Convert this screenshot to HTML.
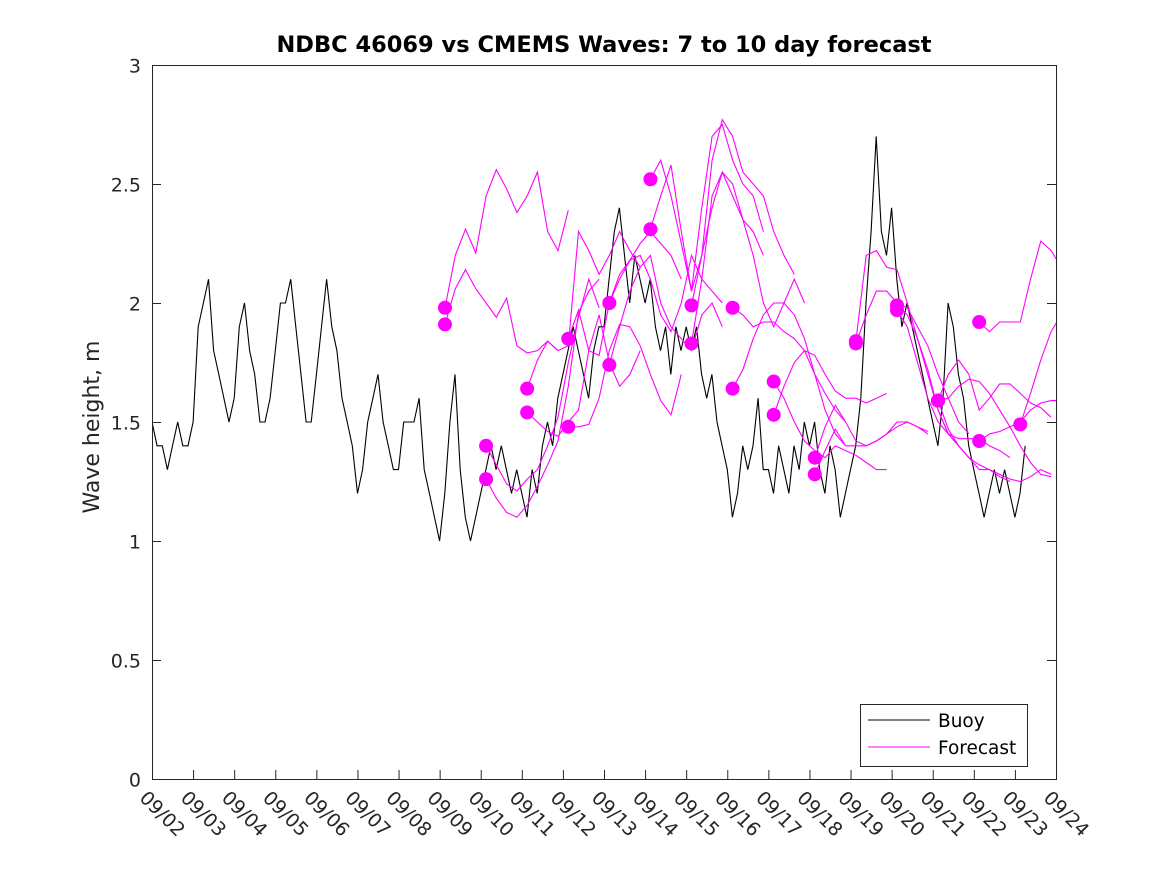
<!DOCTYPE html>
<html><head><meta charset="utf-8"><style>
body{margin:0;background:#fff}
svg{display:block;font-family:"DejaVu Sans","Liberation Sans",sans-serif}
</style></head><body>
<svg id="chart" width="1167" height="875">
<defs><clipPath id="plotclip"><rect x="152" y="65" width="904" height="714"/></clipPath></defs>
<rect x="0" y="0" width="1167" height="875" fill="#fff"/>
<rect x="152" y="65" width="904" height="714" fill="#fff" stroke="none"/>
<g id="series" clip-path="url(#plotclip)"></g>
<rect x="152.5" y="65.5" width="904" height="714" fill="none" stroke="#262626" stroke-width="1"/>
<g id="axes"></g>
<text x="604" y="52" text-anchor="middle" font-size="22.5" font-weight="bold" fill="#000">NDBC 46069 vs CMEMS Waves: 7 to 10 day forecast</text>
<text transform="translate(99,427) rotate(-90)" text-anchor="middle" font-size="22" fill="#262626">Wave height, m</text>
<g>
<rect x="860.5" y="704.5" width="167" height="62" fill="#fff" stroke="#262626"/>
<line x1="868" y1="720" x2="930" y2="720" stroke="#000" stroke-width="1"/>
<text x="938" y="727" font-size="18.5" fill="#000">Buoy</text>
<line x1="868" y1="747" x2="930" y2="747" stroke="#ff00ff" stroke-width="1"/>
<text x="938" y="754" font-size="18.5" fill="#000">Forecast</text>
</g>
</svg>
<script>
const xTickLabels=["09/02","09/03","09/04","09/05","09/06","09/07","09/08","09/09","09/10","09/11","09/12","09/13","09/14","09/15","09/16","09/17","09/18","09/19","09/20","09/21","09/22","09/23","09/24"];
const yTicks=[0,0.5,1,1.5,2,2.5,3];
const yTickLabels=["0","0.5","1","1.5","2","2.5","3"];
// buoy wave height, 3-hourly from 09/02 00:00
const buoyValues=[
1.5,1.4,1.4,1.3,1.4,1.5,1.4,1.4,
1.5,1.9,2.0,2.1,1.8,1.7,1.6,1.5,
1.6,1.9,2.0,1.8,1.7,1.5,1.5,1.6,
1.8,2.0,2.0,2.1,1.9,1.7,1.5,1.5,
1.7,1.9,2.1,1.9,1.8,1.6,1.5,1.4,
1.2,1.3,1.5,1.6,1.7,1.5,1.4,1.3,
1.3,1.5,1.5,1.5,1.6,1.3,1.2,1.1,
1.0,1.2,1.5,1.7,1.3,1.1,1.0,1.1,
1.2,1.3,1.4,1.3,1.4,1.3,1.2,1.3,
1.2,1.1,1.3,1.2,1.4,1.5,1.4,1.6,
1.7,1.8,1.9,1.8,1.7,1.6,1.8,1.9,
1.9,2.1,2.3,2.4,2.2,2.0,2.2,2.1,
2.0,2.1,1.9,1.8,1.9,1.7,1.9,1.8,
1.9,1.8,1.9,1.7,1.6,1.7,1.5,1.4,
1.3,1.1,1.2,1.4,1.3,1.4,1.6,1.3,
1.3,1.2,1.4,1.3,1.2,1.4,1.3,1.5,
1.4,1.5,1.3,1.2,1.4,1.3,1.1,1.2,
1.3,1.4,1.6,2.0,2.3,2.7,2.3,2.2,
2.4,2.1,1.9,2.0,1.9,1.8,1.7,1.6,
1.5,1.4,1.6,2.0,1.9,1.7,1.6,1.4,
1.3,1.2,1.1,1.2,1.3,1.2,1.3,1.2,
1.1,1.2,1.4];
const buoyStep=0.125;
// forecast runs: start day (days after 09/02 00:00), values every 6 hours; first value is the dot
const fcStart=[7.13,7.13,8.13,8.13,9.13,9.13,10.13,10.13,11.13,11.13,12.13,12.13,13.13,13.13,14.13,14.13,15.13,15.13,16.13,16.13,17.13,17.13,18.13,18.13,19.13,19.13,19.13,20.13,20.13,21.13];
const fcValues=[
[1.98,2.20,2.31,2.21,2.45,2.56,2.48,2.38,2.45,2.55,2.30,2.22,2.39],
[1.91,2.06,2.14,2.06,2.00,1.94,2.02,1.82,1.79,1.80,1.84,1.80],
[1.40,1.32,1.24,1.21,1.26,1.30,1.40,1.52,1.75,1.94,2.10,1.98],
[1.26,1.18,1.12,1.10,1.15,1.23,1.32,1.42,1.65,1.96,2.05,2.10],
[1.64,1.76,1.84,1.80,1.82,2.30,2.22,2.12,2.20,2.30,2.22,2.15],
[1.54,1.50,1.46,1.44,1.50,1.55,1.80,1.95,1.75,1.65,1.70,1.80],
[1.85,1.97,1.80,1.78,2.00,2.10,2.18,2.25,2.30,2.25,2.20,2.10],
[1.48,1.48,1.49,1.60,1.80,1.91,1.90,1.82,1.70,1.59,1.53,1.70],
[2.00,2.12,2.18,2.20,2.10,1.95,1.88,2.00,2.20,2.10,2.05,2.00],
[1.74,1.90,2.05,2.15,2.20,2.00,1.90,1.85,1.80,1.95,2.00,1.90],
[2.52,2.60,2.45,2.25,2.05,2.20,2.40,2.55,2.45,2.35,2.30,2.20],
[2.31,2.45,2.58,2.30,2.05,2.40,2.70,2.75,2.60,2.50,2.45,2.30],
[1.99,2.20,2.60,2.77,2.70,2.55,2.50,2.45,2.30,2.20,2.12],
[1.83,2.10,2.45,2.55,2.50,2.35,2.20,2.00,1.90,2.00,2.10,2.00],
[1.98,1.95,1.90,1.92,1.92,1.88,1.85,1.80,1.70,1.62,1.55,1.50],
[1.64,1.72,1.85,1.95,2.00,2.00,1.95,1.85,1.70,1.55,1.45,1.40],
[1.67,1.60,1.50,1.42,1.38,1.35,1.40,1.38,1.36,1.33,1.30,1.30],
[1.53,1.65,1.75,1.80,1.78,1.70,1.63,1.60,1.60,1.58,1.60,1.62],
[1.35,1.48,1.57,1.50,1.42,1.40,1.42,1.45,1.50,1.50,1.48,1.45],
[1.28,1.38,1.47,1.40,1.40,1.40,1.42,1.45,1.48,1.50,1.48,1.46],
[1.84,2.20,2.22,2.15,2.14,2.00,1.85,1.72,1.55,1.45,1.40,1.35],
[1.83,1.95,2.05,2.05,2.00,1.98,1.90,1.82,1.70,1.60,1.50,1.45],
[1.99,1.95,1.85,1.70,1.55,1.45,1.40,1.35,1.30,1.30,1.27,1.25],
[1.97,1.90,1.75,1.60,1.50,1.45,1.43,1.43,1.43,1.40,1.38,1.35],
[1.59,1.70,1.76,1.70,1.55,1.60,1.66,1.66,1.62,1.58,1.56,1.52],
[1.59,1.60,1.65,1.68,1.67,1.62,1.55,1.48,1.40,1.33,1.28,1.27],
[1.59,1.47,1.40,1.35,1.32,1.30,1.28,1.26,1.25,1.27,1.30,1.28],
[1.92,1.88,1.92,1.92,1.92,2.10,2.26,2.22,2.15,2.09],
[1.42,1.45,1.46,1.48,1.50,1.55,1.58,1.59,1.59,1.58],
[1.49,1.62,1.76,1.88,1.95]];
const fcStep=0.25;

const NS="http://www.w3.org/2000/svg";
const X0=152,X1=1056,Y0=779,Y1=65,DAYS=22,YMAX=3;
function xs(d){return X0+d*(X1-X0)/DAYS;}
function ys(v){return Y0-v*(Y0-Y1)/YMAX;}
function mk(tag,attrs,parent){const e=document.createElementNS(NS,tag);for(const k in attrs)e.setAttribute(k,attrs[k]);parent.appendChild(e);return e;}
const axes=document.getElementById('axes'),series=document.getElementById('series');

xTickLabels.forEach((lab,i)=>{
  const x=xs(i)+0.5;
  if(i>0&&i<DAYS){
    const t=mk('line',{x1:x,y1:Y0,x2:x,y2:Y0-9,stroke:'#262626'},axes);
    
    
  }
  const tx=mk('text',{transform:`translate(${x-14},${Y0+20}) rotate(45)`,'font-size':'19','fill':'#262626'},axes);
  tx.textContent=lab;
  
  
});
yTicks.forEach((v,i)=>{
  const y=ys(v)+0.5;
  if(i>0&&i<yTicks.length-1){
    const t=mk('line',{x1:X0,y1:y,x2:X0+9,y2:y,stroke:'#262626'},axes);
    
    
    const t2=mk('line',{x1:X1,y1:y,x2:X1-9,y2:y,stroke:'#262626'},axes);
    
    
  }
  const tx=mk('text',{x:X0-11,y:y+7,'text-anchor':'end','font-size':'19',fill:'#262626'},axes);
  tx.textContent=yTickLabels[i];
  
  
});

let pts=buoyValues.map((v,i)=>xs(i*buoyStep).toFixed(1)+','+ys(v).toFixed(1)).join(' ');
const bl=mk('polyline',{points:pts,fill:'none',stroke:'#000','stroke-width':'1.1'},series);



fcValues.forEach((vals,k)=>{
  const p=vals.map((v,i)=>xs(fcStart[k]+i*fcStep).toFixed(1)+','+ys(v).toFixed(1)).join(' ');
  const l=mk('polyline',{points:p,fill:'none',stroke:'#ff00ff','stroke-width':'1.1'},series);
  
  
});
fcValues.forEach((vals,k)=>{
  const c=mk('circle',{cx:xs(fcStart[k]),cy:ys(vals[0]),r:7,fill:'#ff00ff'},series);
  
  
});
</script>
</body></html>
